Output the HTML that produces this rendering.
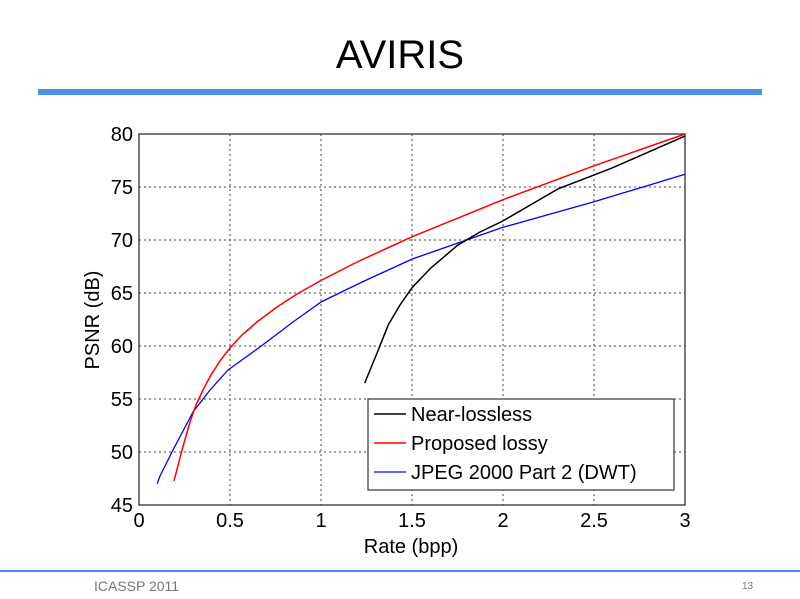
<!DOCTYPE html>
<html><head><meta charset="utf-8"><style>
html,body{margin:0;padding:0;background:#fff;width:800px;height:599px;overflow:hidden}
</style></head><body>
<svg width="800" height="599" xmlns="http://www.w3.org/2000/svg" font-family="Liberation Sans, Arial, sans-serif">
<rect width="800" height="599" fill="#fff"/>
<text x="400" y="68" font-size="40" text-anchor="middle" fill="#000">AVIRIS</text>
<rect x="38" y="89" width="724" height="6" fill="#4a8fe8"/>
<line x1="0" y1="571" x2="800" y2="571" stroke="#4a8fe8" stroke-width="2"/>
<text x="94" y="591" font-size="14" fill="#777">ICASSP 2011</text>
<text x="742" y="589" font-size="10" fill="#777">13</text>
<g stroke="#444" stroke-width="1" stroke-dasharray="2,3">
<line x1="230" y1="134" x2="230" y2="505"/><line x1="321" y1="134" x2="321" y2="505"/>
<line x1="412" y1="134" x2="412" y2="505"/><line x1="503" y1="134" x2="503" y2="505"/>
<line x1="594" y1="134" x2="594" y2="505"/>
<line x1="139" y1="187" x2="685" y2="187"/><line x1="139" y1="240" x2="685" y2="240"/>
<line x1="139" y1="293" x2="685" y2="293"/><line x1="139" y1="346" x2="685" y2="346"/>
<line x1="139" y1="399" x2="685" y2="399"/><line x1="139" y1="452" x2="685" y2="452"/>
</g>
<rect x="139" y="134" width="546" height="371" fill="none" stroke="#333" stroke-width="1.3"/>
<g font-size="20" fill="#000" text-anchor="end">
<text x="133" y="141">80</text><text x="133" y="194">75</text><text x="133" y="247">70</text>
<text x="133" y="300">65</text><text x="133" y="353">60</text><text x="133" y="406">55</text>
<text x="133" y="459">50</text><text x="133" y="512">45</text>
</g>
<g font-size="20" fill="#000" text-anchor="middle">
<text x="139" y="527">0</text><text x="230" y="527">0.5</text><text x="321" y="527">1</text>
<text x="412" y="527">1.5</text><text x="503" y="527">2</text><text x="594" y="527">2.5</text>
<text x="685" y="527">3</text>
<text x="411" y="553">Rate (bpp)</text>
<text transform="translate(99,320) rotate(-90)">PSNR (dB)</text>
</g>
<g fill="none" stroke-linejoin="round">
<polyline stroke="#0000ff" stroke-width="1.3" points="157.2,483.8 160,476 173,450 193,412 210,390 228,370 260,347 293,322 321,302 360,283 412,259.1 503,227.3 594,201.8 685,174.3"/>
<polyline stroke="#000" stroke-width="1.5" points="364.7,383.1 375.6,356.6 388.3,324.8 400,305 412,287.7 430.2,268.6 457.5,245.3 480,232 503,220.9 557.6,189.1 612.2,167.9 685,136.1"/>
<polyline stroke="#ff0000" stroke-width="1.5" points="174,481 182,450 190,422 196,405 203,390 211,375 220,361 230,348 242,335 257,322 277,307 297,294 320,281 357,262 412,236.8 503,199.7 594,165.8 685,134"/>
</g>
<rect x="368" y="399" width="306" height="91" fill="#fff" stroke="#333" stroke-width="1.2"/>
<line x1="374" y1="414" x2="406" y2="414" stroke="#000" stroke-width="1.5"/>
<line x1="374" y1="443" x2="406" y2="443" stroke="#f00" stroke-width="1.5"/>
<line x1="374" y1="472" x2="406" y2="472" stroke="#00f" stroke-width="1.3"/>
<g font-size="20" fill="#000">
<text x="411" y="421">Near-lossless</text>
<text x="411" y="450">Proposed lossy</text>
<text x="411" y="479">JPEG 2000 Part 2 (DWT)</text>
</g>
</svg>
</body></html>
